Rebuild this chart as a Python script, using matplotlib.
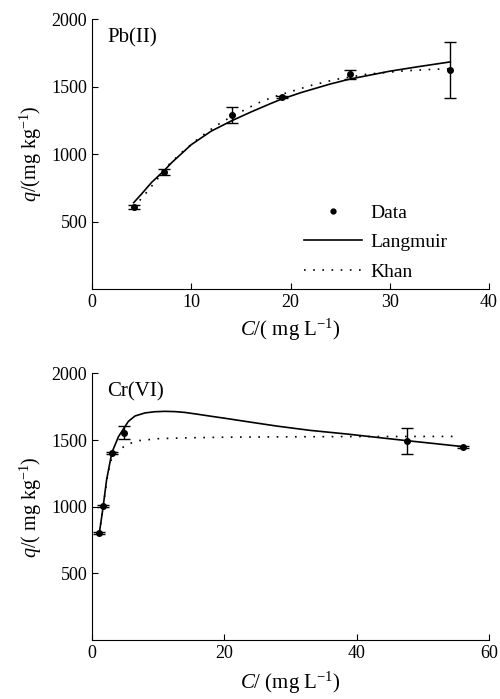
import numpy as np
import matplotlib
matplotlib.use('Agg')
import matplotlib.pyplot as plt
from matplotlib.lines import Line2D

plt.rcParams['font.family'] = ['Liberation Serif', 'DejaVu Serif']
plt.rcParams['mathtext.fontset'] = 'custom'
plt.rcParams['mathtext.rm'] = 'Liberation Serif'
plt.rcParams['mathtext.it'] = 'Liberation Serif:italic'

# Pb(II) data
pb_c = [4.2, 7.3, 14.1, 19.1, 26.0, 36.1]
pb_q = [608, 868, 1288, 1426, 1592, 1625]
pb_err = [16, 22, 60, 8, 35, 208]
# Pb(II) fitted curves
pb_lang_c = [4.2, 5.0, 6.0, 7.3, 8.0, 10.0, 12.0, 14.0, 16.0, 18.0, 19.0, 21.0, 24.0, 26.0, 30.0, 33.0, 36.1]
pb_lang_q = [640, 705, 790, 880, 935, 1070, 1170, 1245, 1312, 1375, 1405, 1455, 1520, 1557, 1615, 1650, 1684]
pb_khan_c = [4.2, 5.2, 6.4, 7.5, 9.0, 10.5, 11.7, 13.2, 14.9, 16.6, 18.1, 20.3, 22.1, 24.5, 27.7, 31.5, 34.7, 36.1]
pb_khan_q = [605, 690, 797, 905, 1010, 1102, 1170, 1243, 1310, 1375, 1420, 1470, 1510, 1553, 1593, 1618, 1630, 1632]

# Cr(VI) data
cr_c = [1.1, 1.7, 2.97, 4.84, 47.6, 56.1]
cr_q = [805, 1005, 1400, 1555, 1493, 1450]
cr_err = [8, 8, 8, 48, 100, 8]
cr_lang_c = [1.1, 1.47, 1.7, 2.2, 3.0, 4.0, 4.84, 5.5, 6.5, 8.0, 9.5, 11.0, 12.5, 14.0, 16.0, 18.0, 20.5, 23.4, 28.0, 33.0, 38.5, 43.0, 47.6, 52.0, 56.1]
cr_lang_q = [800, 925, 1005, 1200, 1405, 1525, 1590, 1640, 1680, 1703, 1712, 1715, 1713, 1707, 1693, 1678, 1660, 1638, 1604, 1572, 1545, 1520, 1495, 1472, 1450]
cr_khan_c = [1.1, 1.7, 2.4, 3.0, 4.0, 5.5, 7.0, 10.0, 15.0, 20.0, 30.0, 40.0, 55.0]
cr_khan_q = [800, 1000, 1250, 1370, 1425, 1470, 1495, 1510, 1517, 1521, 1524, 1526, 1527]

fig = plt.figure(figsize=(5, 6.99), dpi=100)
ax1 = fig.add_axes([0.184, 0.5866, 0.794, 0.3858])
ax2 = fig.add_axes([0.184, 0.0844, 0.794, 0.3815])

dot = (0, (1, 4.5))

def style(ax, xmax, xticks, ylabel):
    ax.spines['top'].set_visible(False)
    ax.spines['right'].set_visible(False)
    ax.set_xlim(0, xmax)
    ax.set_ylim(0, 2000)
    ax.set_xticks(xticks)
    ax.set_yticks([500, 1000, 1500, 2000])
    ax.tick_params(direction='in', labelsize=13, length=4)
    ax.set_ylabel(ylabel, fontsize=14.5, labelpad=5)

ax1.errorbar(pb_c, pb_q, yerr=pb_err, fmt='o', color='black', ms=4, capsize=4, elinewidth=1)
ax1.plot(pb_lang_c, pb_lang_q, '-', color='black', lw=1.2)
ax1.plot(pb_khan_c, pb_khan_q, linestyle=dot, color='black', lw=1.2)
style(ax1, 40, [0, 10, 20, 30, 40], r'$q$/(mg kg$^{-1}$)')
ax1.set_xlabel(r'$C$/( mg L$^{-1}$)', fontsize=15)
ax1.text(0.038, 0.965, 'Pb(II)', transform=ax1.transAxes, fontsize=15, va='top')
handles = [Line2D([], [], marker='o', ms=3.5, ls='none', color='black'),
           Line2D([], [], ls='-', lw=1.2, color='black'),
           Line2D([], [], ls=dot, lw=1.2, color='black')]
ax1.legend(handles, ['Data', 'Langmuir', 'Khan'], loc='lower right', bbox_to_anchor=(0.894, 0.03),
           frameon=False, fontsize=14, handlelength=3.0, handletextpad=0.4, labelspacing=0.62,
           borderpad=0, borderaxespad=0)

ax2.errorbar(cr_c, cr_q, yerr=cr_err, fmt='o', color='black', ms=4, capsize=4, elinewidth=1)
ax2.plot(cr_lang_c, cr_lang_q, '-', color='black', lw=1.2)
ax2.plot(cr_khan_c, cr_khan_q, linestyle=dot, color='black', lw=1.2)
style(ax2, 60, [0, 20, 40, 60], r'$q$/( mg kg$^{-1}$)')
ax2.set_xlabel(r'$C$/ (mg L$^{-1}$)', fontsize=15, labelpad=6)
ax2.text(0.038, 0.965, 'Cr(VI)', transform=ax2.transAxes, fontsize=15, va='top')

fig.savefig('out.png', dpi=100)
